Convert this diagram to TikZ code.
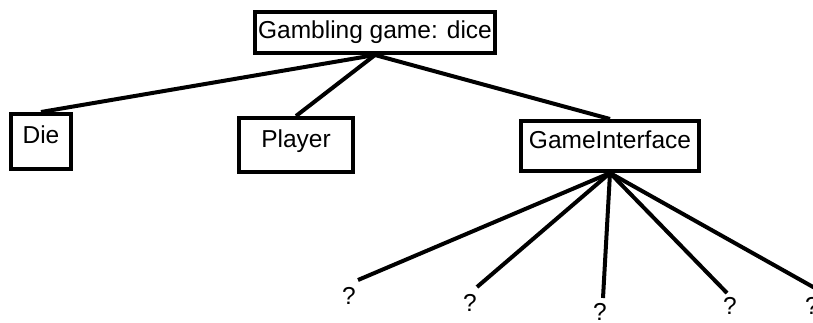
\documentclass[tikz,border=0pt]{standalone}
\usepackage{fontspec}
\setmainfont{Liberation Sans}
\begin{document}
\begin{tikzpicture}[x=1pt,y=-1pt,
  box/.style={draw=black, line width=4pt, rectangle, inner sep=0pt, font=\fontsize{24.5}{28}\selectfont},
  conn/.style={line width=4pt, black},
  qmark/.style={inner sep=0pt, font=\fontsize{24.5}{28}\selectfont}]
\useasboundingbox (0,0) rectangle (813,322);
\node[box, minimum width=240pt, minimum height=41pt] (top) at (375,32.5) {\raisebox{-5.5pt}[0pt][0pt]{Gambling game: dice}};
\node[box, minimum width=60pt, minimum height=55pt] (die) at (41,141.5) {\raisebox{-1.5pt}[0pt][0pt]{Die}\hspace{8pt}};
\node[box, minimum width=114pt, minimum height=54pt] (player) at (296,145) {\raisebox{-2pt}[0pt][0pt]{Player}\hspace{12pt}};
\node[box, minimum width=178pt, minimum height=50pt] (gi) at (610,146) {\raisebox{-2pt}[0pt][0pt]{GameInterface}\hspace{12pt}};
\draw[conn] (top.south) -- (die.north);
\draw[conn] (top.south) -- (player.north);
\draw[conn] (top.south) -- (gi.north);
\coordinate (c1) at (358,280);
\coordinate (c2) at (477,287);
\coordinate (c3) at (603,298);
\coordinate (c4) at (727,293);
\coordinate (c5) at (822,292);
\draw[conn] (gi.south) -- (c1);
\draw[conn] (gi.south) -- (c2);
\draw[conn] (gi.south) -- (c3);
\draw[conn] (gi.south) -- (c4);
\draw[conn] (gi.south) -- (c5);
\node[qmark] (q1) at (349,296) {?};
\node[qmark] (q2) at (470,303) {?};
\node[qmark] (q3) at (600,312) {?};
\node[qmark] (q4) at (730,306) {?};
\node[qmark] (q5) at (812,306) {?};
\end{tikzpicture}
\end{document}
